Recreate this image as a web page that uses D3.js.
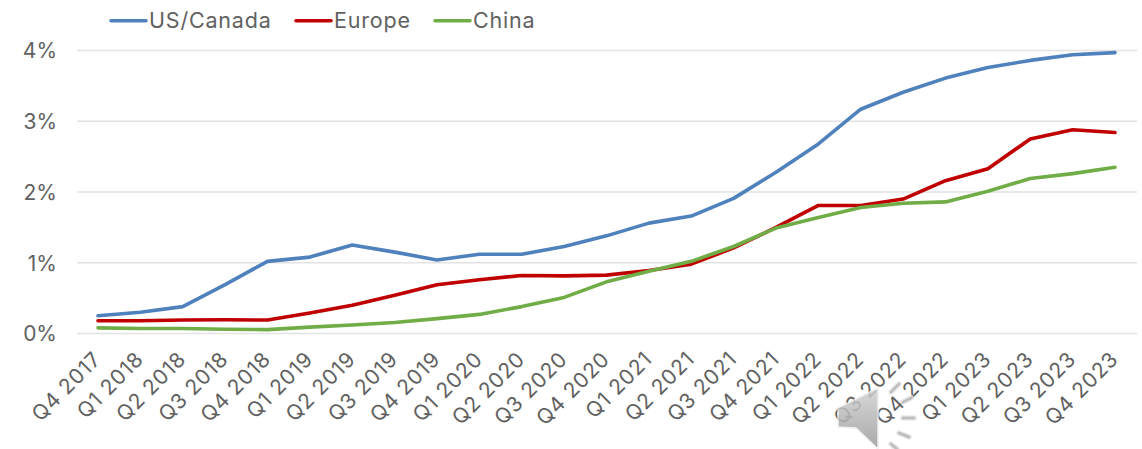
<!DOCTYPE html>
<html>
<head>
<meta charset="utf-8">
<script src="https://cdn.jsdelivr.net/npm/d3@7/dist/d3.min.js"></script>
<style>
  html, body { margin: 0; padding: 0; background: #fff; }
  text { font-family: Inter, "Open Sans", sans-serif; fill: #595959; }
</style>
</head>
<body>
<svg id="chart" width="1142" height="449"></svg>
<script>
const quarters = ["Q4 2017","Q1 2018","Q2 2018","Q3 2018","Q4 2018","Q1 2019","Q2 2019","Q3 2019","Q4 2019",
  "Q1 2020","Q2 2020","Q3 2020","Q4 2020","Q1 2021","Q2 2021","Q3 2021","Q4 2021","Q1 2022","Q2 2022","Q3 2022",
  "Q4 2022","Q1 2023","Q2 2023","Q3 2023","Q4 2023"];
const usCanada = [0.25,0.30,0.38,0.69,1.02,1.08,1.25,1.15,1.04,1.12,1.12,1.23,1.38,1.56,1.66,1.91,2.28,2.68,3.17,3.41,3.61,3.76,3.86,3.94,3.97];
const europe = [0.18,0.18,0.19,0.195,0.19,0.29,0.40,0.54,0.69,0.76,0.82,0.815,0.825,0.89,0.98,1.21,1.50,1.81,1.81,1.90,2.16,2.33,2.75,2.88,2.84];
const china = [0.08,0.07,0.07,0.06,0.055,0.09,0.12,0.155,0.21,0.27,0.38,0.51,0.73,0.88,1.02,1.23,1.49,1.64,1.78,1.84,1.86,2.01,2.19,2.26,2.35];
const yTicks = [0,1,2,3,4];
const seriesNames = ["US/Canada","Europe","China"];
const seriesColors = ["#4f81bd","#c00000","#70ad47"];
const seriesValues = [usCanada, europe, china];

const svg = d3.select("#chart");
const x = d3.scalePoint().domain(quarters).range([98, 1115]);
const y = d3.scaleLinear().domain([0, 4]).range([333.5, 50.5]);

// Horizontal gridlines and percent labels
const yAxis = d3.axisLeft(y).tickValues(yTicks).tickSize(0).tickPadding(0).tickFormat(d => d + "%");
const yG = svg.append("g").attr("transform", "translate(57,0)").call(yAxis);
yG.select(".domain").remove();
yG.selectAll("text").style("font-size", "21px").attr("dy", "0.35em").style("fill", "#616161")
  .style("font-family", 'Inter, sans-serif').style("font-weight", 400);

svg.append("g").selectAll("line").data(yTicks).join("line")
  .attr("x1", 77).attr("x2", 1137)
  .attr("y1", d => y(d)).attr("y2", d => y(d))
  .attr("stroke", "#e3e3e3").attr("stroke-width", 1.6);

// Slanted quarter labels
const xAxis = d3.axisBottom(x).tickSize(0).tickPadding(0);
const xG = svg.append("g").attr("transform", "translate(0,333.5)").call(xAxis);
xG.select(".domain").remove();
xG.selectAll("text")
  .style("font-size", "21px").style("fill", "#616161")
  .style("font-family", 'Inter, sans-serif').style("font-weight", 400)
  .style("letter-spacing", "0.8px")
  .attr("text-anchor", "end")
  .attr("dy", null).attr("y", 0)
  .attr("transform", "translate(4,27) rotate(-45)");

// One line per region
const line = d3.line().x((d, i) => x(quarters[i])).y(d => y(d));
svg.append("g").selectAll("path").data(seriesValues).join("path")
  .attr("d", line).attr("fill", "none")
  .attr("stroke", (d, i) => seriesColors[i])
  .attr("stroke-width", 3.6).attr("stroke-linejoin", "round").attr("stroke-linecap", "round");

// Legend along the top
const legendX = [111, 296, 435];
const legend = svg.append("g").selectAll("g").data(seriesNames).join("g")
  .attr("transform", (d, i) => `translate(${legendX[i]},20.7)`);
legend.append("line").attr("x1", 0).attr("x2", 35)
  .attr("stroke", (d, i) => seriesColors[i]).attr("stroke-width", 3.6).attr("stroke-linecap", "round");
legend.append("text").attr("x", 38).attr("dy", "0.35em")
  .style("font-size", "21.5px").style("font-weight", 400).style("fill", "#616161")
  .style("letter-spacing", "0.8px").text(d => d);

// Audio narration badge in the lower right corner
const defs = svg.append("defs");
const grad = defs.append("linearGradient").attr("id", "speakerFill").attr("x1", 0).attr("y1", 0).attr("x2", 0).attr("y2", 1);
grad.append("stop").attr("offset", 0).attr("stop-color", "#d2d2d2");
grad.append("stop").attr("offset", 1).attr("stop-color", "#9a9a9a");
const badge = svg.append("g").attr("opacity", 0.85);
const rays = [[891,392,899,384],[903,402,911,398],[903,418,914,418],[899,433,909,437],[891,444,897,449]];
badge.selectAll("line.halo").data(rays).join("line").attr("class", "halo")
  .attr("x1", d => d[0]).attr("y1", d => d[1]).attr("x2", d => d[2]).attr("y2", d => d[3])
  .attr("stroke", "#ececec").attr("stroke-width", 6).attr("stroke-linecap", "round");
badge.selectAll("line.ray").data(rays).join("line").attr("class", "ray")
  .attr("x1", d => d[0]).attr("y1", d => d[1]).attr("x2", d => d[2]).attr("y2", d => d[3])
  .attr("stroke", "#b5b5b5").attr("stroke-width", 3).attr("stroke-linecap", "round");
badge.append("path")
  .attr("d", "M838,408 L878,388 L878,449 L856,428 L838,427 Z")
  .attr("fill", "url(#speakerFill)").attr("stroke", "#eeeeee").attr("stroke-width", 1.5).attr("stroke-linejoin", "round");
</script>
</body>
</html>
